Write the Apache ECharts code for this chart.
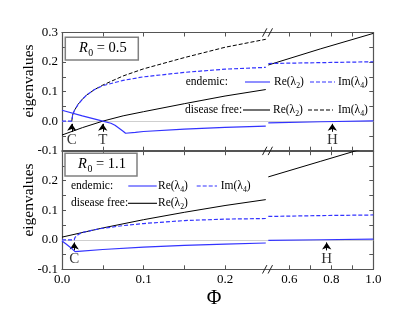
<!DOCTYPE html>
<html><head><meta charset="utf-8">
<script src="https://cdn.jsdelivr.net/npm/echarts@6/dist/echarts.min.js"></script>
<style>html,body{margin:0;padding:0;background:#fff}#c{width:415px;height:321px}</style>
</head><body><div id="c"></div>
<script>
// ---------- DATA ----------
const xTicksLeft = [0, 0.05, 0.1, 0.15, 0.2];
const xLabelsLeft = [0, 0.1, 0.2];
const xTicksRight = [0.6, 0.7, 0.8, 0.9, 1.0];
const xLabelsRight = [0.6, 0.8, 1.0];
const yTicks = [-0.1, -0.05, 0, 0.05, 0.1, 0.15, 0.2, 0.25, 0.3];
const yLabelsTop = [-0.1, 0, 0.1, 0.2, 0.3];
const yLabelsBottom = [-0.1, 0, 0.1, 0.2];

// Top panel, R0 = 0.5  ([Phi, eigenvalue])
const topDfReLeft = [[0,-0.047],[0.01,-0.037],[0.025,-0.022],[0.05,0],[0.075,0.018],[0.1,0.032],[0.15,0.059],[0.2,0.085],[0.25,0.107]];
const topDfReRight = [[0.5,0.19],[0.75,0.245],[1.0,0.297]];
const topDfImLeft = [[0.012,0],[0.013,0.02],[0.015,0.035],[0.02,0.058],[0.025,0.074],[0.03,0.088],[0.04,0.107],[0.05,0.122],[0.075,0.153],[0.1,0.177],[0.15,0.215],[0.2,0.25],[0.25,0.277]];
const topEnImLeft = [[0,0],[0.012,0],[0.013,0.02],[0.015,0.035],[0.02,0.058],[0.025,0.074],[0.03,0.088],[0.04,0.107],[0.05,0.12],[0.075,0.138],[0.1,0.15],[0.15,0.165],[0.2,0.176],[0.25,0.182]];
const topEnImRight = [[0.5,0.195],[0.75,0.198],[1.0,0.201]];
const topEnReLeft = [[0,0.037],[0.025,0.018],[0.05,0],[0.06,-0.007],[0.065,-0.014],[0.07,-0.024],[0.075,-0.034],[0.078,-0.041],[0.09,-0.038],[0.1,-0.035],[0.15,-0.027],[0.2,-0.021],[0.25,-0.017]];
const topEnReRight = [[0.5,-0.006],[0.75,-0.002],[1.0,0.001]];
const topArrowsLeft = [['C',0.012],['T',0.05]];
const topArrowsRight = [['H',0.805]];

// Bottom panel, R0 = 1.1
const botDfReLeft = [[0,0.009],[0.05,0.04],[0.1,0.068],[0.15,0.093],[0.2,0.116],[0.25,0.136]];
const botDfReRight = [[0.5,0.213],[0.75,0.266],[1.0,0.319]];
const botEnImLeft = [[0,0],[0.015,0],[0.016,0.008],[0.018,0.014],[0.02,0.018],[0.025,0.025],[0.03,0.028],[0.04,0.034],[0.05,0.039],[0.075,0.048],[0.1,0.055],[0.15,0.065],[0.2,0.07],[0.25,0.072]];
const botEnImRight = [[0.5,0.079],[0.75,0.082],[1.0,0.084]];
const botEnReLeft = [[0,-0.004],[0.005,-0.014],[0.01,-0.025],[0.016,-0.04],[0.02,-0.039],[0.05,-0.033],[0.1,-0.025],[0.15,-0.019],[0.2,-0.015],[0.25,-0.011]];
const botEnReRight = [[0.5,-0.002],[0.75,0.0],[1.0,0.002]];
const botArrowsLeft = [['C',0.015]];
const botArrowsRight = [['H',0.778]];

// ---------- STYLE ----------
const FONT = 'Liberation Serif, serif';
const BLUE = '#3333ff';
const AX = '#555';
const X_LEFT_MAX = 0.2531;

const chart = echarts.init(document.getElementById('c'), null, {renderer:'canvas'});

const grids = [
  {left:62, top:32.5, width:206.3, height:118.2},
  {left:268.3, top:32.5, width:105, height:118.2},
  {left:62, top:151.2, width:206.3, height:118.1},
  {left:268.3, top:151.2, width:105, height:118.1}
];

function xAxisDef(g, pos, isLeft, labels){
  return {type:'value', gridIndex:g, position:pos,
    min:isLeft?0:0.5, max:isLeft?X_LEFT_MAX:1.0,
    axisLine:{show:true, onZero:false, lineStyle:{color:AX, width:1.2}},
    axisTick:{show:true, inside:true, length:4, customValues:isLeft?xTicksLeft:xTicksRight, lineStyle:{color:AX,width:1}},
    axisLabel:{show:labels, customValues:isLeft?xLabelsLeft:xLabelsRight, formatter:v=>v.toFixed(1), fontFamily:FONT, fontSize:13, color:'#000', margin:4},
    splitLine:{show:false}};
}
function yAxisDef(g, pos, labels){
  return {type:'value', gridIndex:g, position:pos, min:-0.1, max:0.3,
    axisLine:{show:true, onZero:false, lineStyle:{color:AX, width:1.2}},
    axisTick:{show:true, inside:true, length:4, customValues:yTicks, lineStyle:{color:AX,width:1}},
    axisLabel:{show:!!labels, customValues:labels||[], formatter:v=>v.toFixed(1), fontFamily:FONT, fontSize:13, color:'#000', margin:4},
    splitLine:{show:false}};
}

const xAxes = [
  xAxisDef(0,'bottom',true,false), xAxisDef(0,'top',true,false),
  xAxisDef(1,'bottom',false,false), xAxisDef(1,'top',false,false),
  xAxisDef(2,'bottom',true,true), xAxisDef(2,'top',true,false),
  xAxisDef(3,'bottom',false,true), xAxisDef(3,'top',false,false)
];
const yAxes = [
  yAxisDef(0,'left',yLabelsTop),
  yAxisDef(1,'right',null),
  yAxisDef(2,'left',yLabelsBottom),
  yAxisDef(3,'right',null)
];

function line(g, data, color, width, dashed){
  return {type:'line', xAxisIndex:g*2, yAxisIndex:g, data, showSymbol:false, symbol:'none', zlevel:1,
    lineStyle:{color, width, type:dashed?[4,2]:'solid'}, z:3, animation:false, silent:true, clip:true};
}
function zeroLine(g){
  return {type:'line', xAxisIndex:g*2, yAxisIndex:g, data:[], z:1, zlevel:0, silent:true, animation:false,
    markLine:{silent:true, symbol:['none','none'], label:{show:false}, animation:false,
      lineStyle:{color:'#cfcfcf', width:1, type:'solid'}, data:[{yAxis:0}]}};
}
function arrows(g, list){
  return {type:'line', xAxisIndex:g*2, yAxisIndex:g, data:[], z:5, zlevel:1, silent:true, animation:false,
    markLine:{silent:true, animation:false, symbol:['none','arrow'], symbolSize:7,
      lineStyle:{color:'#000', width:1, type:'solid', opacity:1},
      itemStyle:{color:'#000'},
      label:{show:false},
      data:list.map(a=>[{coord:[a[1],-0.036]},{coord:[a[1],-0.009]}])}};
}
function arrowLabels(g, list){
  return {type:'scatter', xAxisIndex:g*2, yAxisIndex:g, zlevel:1, z:5, silent:true, animation:false,
    symbolSize:0, data:list.map(a=>({value:[a[1],-0.064], name:a[0]})),
    label:{show:true, position:'inside', formatter:'{b}', fontFamily:FONT, fontSize:15, color:'#000'}};
}

const series = [
  zeroLine(0), zeroLine(1), zeroLine(2), zeroLine(3),
  line(0, topDfReLeft, '#000', 1, false),
  line(1, topDfReRight, '#000', 1, false),
  line(0, topDfImLeft, '#000', 1, true),
  line(0, topEnImLeft, BLUE, 1.2, true),
  line(1, topEnImRight, BLUE, 1.2, true),
  line(0, topEnReLeft, BLUE, 1.2, false),
  line(1, topEnReRight, BLUE, 1.2, false),
  line(2, botDfReLeft, '#000', 1, false),
  line(3, botDfReRight, '#000', 1, false),
  line(2, botEnImLeft, BLUE, 1.2, true),
  line(3, botEnImRight, BLUE, 1.2, true),
  line(2, botEnReLeft, BLUE, 1.2, false),
  line(3, botEnReRight, BLUE, 1.2, false),
  arrows(0, topArrowsLeft), arrows(1, topArrowsRight),
  arrows(2, botArrowsLeft), arrows(3, botArrowsRight),
  arrowLabels(0, topArrowsLeft), arrowLabels(1, topArrowsRight),
  arrowLabels(2, botArrowsLeft), arrowLabels(3, botArrowsRight)
];

// ---------- text helpers for sub-scripts ----------
const mctx = document.createElement('canvas').getContext('2d');
function fontStr(italic, size){ return (italic?'italic ':'') + size + 'px ' + FONT; }
function runWidth(parts, size){
  let w=0; parts.forEach(p=>{ const fs=p.sub?size*0.68:size; mctx.font=fontStr(p.italic,fs); w+=mctx.measureText(p.t).width + (p.gap||0); }); return w;
}
function textRun(x, y, parts, size){
  const els=[]; let cx=x;
  parts.forEach(p=>{
    const fs=p.sub?size*0.68:size;
    mctx.font=fontStr(p.italic,fs); const w=mctx.measureText(p.t).width;
    els.push({type:'text', x:cx, y:y+(p.sub?size*0.32:0), z:100, zlevel:1,
      style:{text:p.t, fontFamily:FONT, fontSize:fs, fontStyle:p.italic?'italic':'normal', fill:'#000', align:'left', verticalAlign:'middle'}});
    cx+=w+(p.gap||0);
  });
  return els;
}
function seg(x1,x2,y,color,dashed){
  return {type:'line', z:100, zlevel:1, shape:{x1,y1:y,x2,y2:y}, style:{stroke:color, lineWidth:1.1, lineDash:dashed?[4,2]:null}};
}
const Re2 = [{t:'Re(λ'},{t:'2',sub:true},{t:')'}];
const Re4 = [{t:'Re(λ'},{t:'4',sub:true},{t:')'}];
const Im4 = [{t:'Im(λ'},{t:'4',sub:true},{t:')'}];
const LS = 11.5;

const g = [];
function r0Box(x,y,w,h,val){
  g.push({type:'rect', z:90, zlevel:1, shape:{x,y,width:w,height:h}, style:{fill:'#fff', stroke:'#808080', lineWidth:1.5}});
  const parts=[{t:'R',italic:true,gap:0.5},{t:'0',sub:true},{t:' = '+val}];
  const tw=runWidth(parts,14.5);
  textRun(x+w/2-tw/2+1, y+h/2, parts, 14.5).forEach(e=>g.push(e));
}
r0Box(65.3,37.3,73,22.7,'0.5');
r0Box(65,153.3,72,22.7,'1.1');

textRun(185.7,82,[{t:'endemic:'}],LS).forEach(e=>g.push(e));
g.push(seg(245,270,82,BLUE,false));
textRun(274,82,Re2,LS).forEach(e=>g.push(e));
g.push(seg(310,335,82,BLUE,true));
textRun(338,82,Im4,LS).forEach(e=>g.push(e));
textRun(185,110,[{t:'disease free:'}],LS).forEach(e=>g.push(e));
g.push(seg(243,270,110,'#000',false));
textRun(273,110,Re2,LS).forEach(e=>g.push(e));
g.push(seg(308,333,110,'#000',true));
textRun(338,110,Im4,LS).forEach(e=>g.push(e));

textRun(71,186,[{t:'endemic:'}],LS).forEach(e=>g.push(e));
g.push(seg(128.3,156.7,186,BLUE,false));
textRun(158,186,Re4,LS).forEach(e=>g.push(e));
g.push(seg(196.7,217,186,BLUE,true));
textRun(220.7,186,Im4,LS).forEach(e=>g.push(e));
textRun(71,203.3,[{t:'disease free:'}],LS).forEach(e=>g.push(e));
g.push(seg(128,157,203.3,'#000',false));
textRun(158,203.3,Re2,LS).forEach(e=>g.push(e));

function plainText(x,y,t,size,rot){
  return {type:'text', x, y, rotation:rot||0, z:100, zlevel:1,
    style:{text:t, fontFamily:FONT, fontSize:size, fill:'#000', align:'center', verticalAlign:'middle'}};
}
g.push(plainText(29,81,'eigenvalues',15.5,Math.PI/2));
g.push(plainText(29,200,'eigenvalues',15.5,Math.PI/2));
g.push(plainText(214,299,'Φ',20,0));

[32.5, 150.9, 269.3].forEach(yy=>{
  [264.7, 270.3].forEach(xx=>{
    g.push({type:'line', z:100, zlevel:1, shape:{x1:xx-2.2,y1:yy+4.2,x2:xx+2.2,y2:yy-4.2}, style:{stroke:'#222', lineWidth:1}});
  });
});

chart.setOption({
  animation:false,
  backgroundColor:'#fff',
  grid:grids,
  xAxis:xAxes,
  yAxis:yAxes,
  series:series,
  graphic:{elements:g}
});
</script></body></html>
